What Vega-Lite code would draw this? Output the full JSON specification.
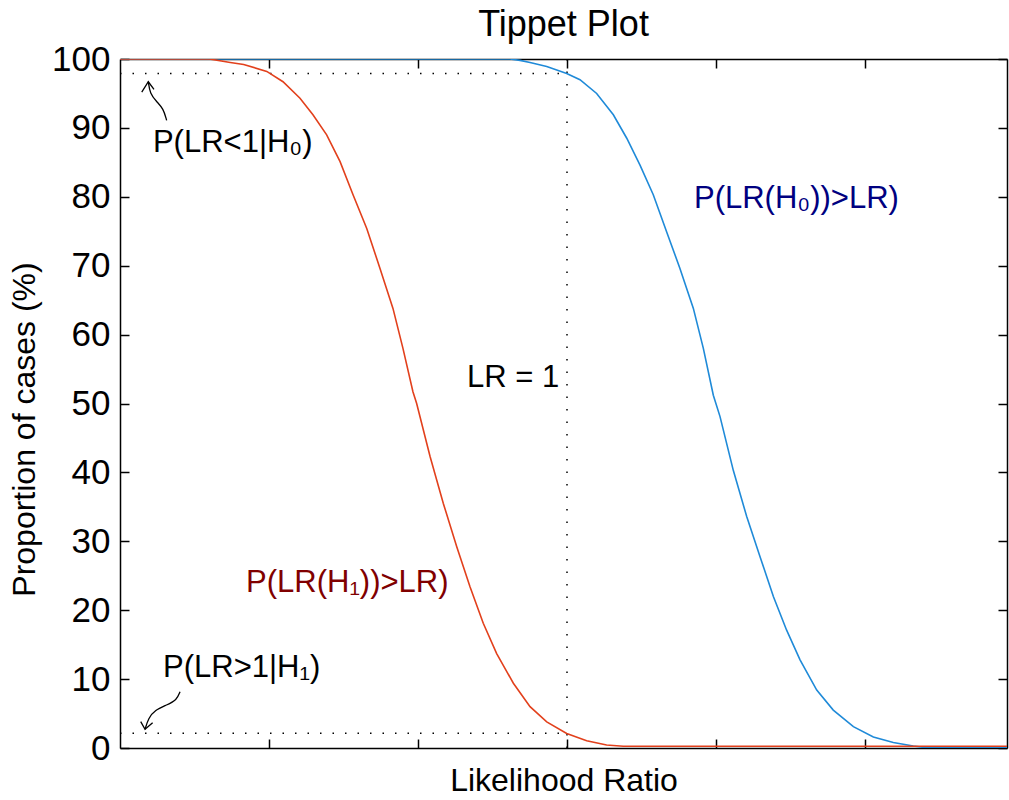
{
  "$schema": "https://vega.github.io/schema/vega-lite/v6.json",
  "width": 887,
  "height": 689,
  "autosize": "none",
  "padding": {"left": 120, "top": 59, "right": 2, "bottom": 52},
  "background": "white",
  "title": {"text": "Tippet Plot", "fontSize": 36, "fontWeight": "normal", "font": "Liberation Sans", "color": "black", "offset": -2},
  "config": {
    "view": {"stroke": null},
    "font": "Liberation Sans",
    "axis": {
      "grid": false,
      "domainColor": "black",
      "domainWidth": 1.5,
      "tickColor": "black",
      "tickWidth": 1.5,
      "tickSize": -9,
      "labelFont": "Liberation Sans",
      "labelFontSize": 35,
      "labelColor": "black",
      "titleFont": "Liberation Sans",
      "titleFontSize": 32,
      "titleFontWeight": "normal",
      "titleColor": "black"
    }
  },
  "datasets": {
    "curves": [
      {"series": "H0", "x": -3, "p": 100}, {"series": "H0", "x": -0.383, "p": 100}, {"series": "H0", "x": -0.315, "p": 99.8},
      {"series": "H0", "x": -0.248, "p": 99.5}, {"series": "H0", "x": -0.136, "p": 98.9}, {"series": "H0", "x": -0.002, "p": 97.9},
      {"series": "H0", "x": 0.087, "p": 97.0}, {"series": "H0", "x": 0.199, "p": 95.0}, {"series": "H0", "x": 0.311, "p": 91.9},
      {"series": "H0", "x": 0.401, "p": 88.5}, {"series": "H0", "x": 0.49, "p": 84.6}, {"series": "H0", "x": 0.579, "p": 80.3},
      {"series": "H0", "x": 0.669, "p": 74.9}, {"series": "H0", "x": 0.758, "p": 69.6}, {"series": "H0", "x": 0.848, "p": 63.8},
      {"series": "H0", "x": 0.915, "p": 58.0}, {"series": "H0", "x": 0.982, "p": 51.2}, {"series": "H0", "x": 1.027, "p": 48.1},
      {"series": "H0", "x": 1.116, "p": 40.3}, {"series": "H0", "x": 1.206, "p": 33.6}, {"series": "H0", "x": 1.295, "p": 27.8},
      {"series": "H0", "x": 1.385, "p": 22.0}, {"series": "H0", "x": 1.474, "p": 17.1}, {"series": "H0", "x": 1.564, "p": 12.8},
      {"series": "H0", "x": 1.676, "p": 8.4}, {"series": "H0", "x": 1.787, "p": 5.5}, {"series": "H0", "x": 1.922, "p": 3.1},
      {"series": "H0", "x": 2.056, "p": 1.6}, {"series": "H0", "x": 2.19, "p": 0.8}, {"series": "H0", "x": 2.324, "p": 0.3},
      {"series": "H0", "x": 2.389, "p": 0.1}, {"series": "H0", "x": 2.953, "p": 0.1},
      {"series": "H1", "x": -3, "p": 100}, {"series": "H1", "x": -2.4, "p": 100}, {"series": "H1", "x": -2.26, "p": 99.5},
      {"series": "H1", "x": -2.17, "p": 99.2}, {"series": "H1", "x": -2.015, "p": 98.2}, {"series": "H1", "x": -1.906, "p": 96.7},
      {"series": "H1", "x": -1.792, "p": 94.3}, {"series": "H1", "x": -1.705, "p": 91.9}, {"series": "H1", "x": -1.613, "p": 89.0},
      {"series": "H1", "x": -1.523, "p": 85.1}, {"series": "H1", "x": -1.436, "p": 80.3}, {"series": "H1", "x": -1.344, "p": 75.4},
      {"series": "H1", "x": -1.255, "p": 69.6}, {"series": "H1", "x": -1.168, "p": 63.8}, {"series": "H1", "x": -1.101, "p": 58.0},
      {"series": "H1", "x": -1.034, "p": 51.7}, {"series": "H1", "x": -1.009, "p": 50.0}, {"series": "H1", "x": -0.919, "p": 42.3},
      {"series": "H1", "x": -0.83, "p": 35.5}, {"series": "H1", "x": -0.74, "p": 29.2}, {"series": "H1", "x": -0.651, "p": 23.4},
      {"series": "H1", "x": -0.562, "p": 18.1}, {"series": "H1", "x": -0.472, "p": 13.7}, {"series": "H1", "x": -0.36, "p": 9.4},
      {"series": "H1", "x": -0.248, "p": 6.0}, {"series": "H1", "x": -0.136, "p": 3.8}, {"series": "H1", "x": -0.002, "p": 2.1},
      {"series": "H1", "x": 0.132, "p": 1.06}, {"series": "H1", "x": 0.266, "p": 0.44}, {"series": "H1", "x": 0.378, "p": 0.25},
      {"series": "H1", "x": 2.953, "p": 0.25}
    ],
    "refs": [
      {"x": -3, "x2": 0, "y": 97.9, "y2": 97.9},
      {"x": -3, "x2": 0, "y": 2.13, "y2": 2.13},
      {"x": 0, "x2": 0, "y": 0, "y2": 100}
    ],
    "labels": [
      {"label": "P(LR<1|H₀)", "x": -2.779, "y": 87.8, "kind": "note"},
      {"label": "P(LR>1|H₁)", "x": -2.711, "y": 11.6, "kind": "note"},
      {"label": "LR = 1", "x": -0.671, "y": 53.7, "kind": "note"},
      {"label": "P(LR(H₁))>LR)", "x": -2.154, "y": 23.9, "kind": "H1"},
      {"label": "P(LR(H₀))>LR)", "x": 0.852, "y": 79.7, "kind": "H0"}
    ],
    "stems": [
      {"arrow": "up", "i": 0, "x": -2.687, "y": 91.1},
      {"arrow": "up", "i": 1, "x": -2.709, "y": 92.8},
      {"arrow": "up", "i": 2, "x": -2.754, "y": 93.8},
      {"arrow": "up", "i": 3, "x": -2.799, "y": 95.0},
      {"arrow": "up", "i": 4, "x": -2.81, "y": 96.7},
      {"arrow": "down", "i": 0, "x": -2.597, "y": 8.17},
      {"arrow": "down", "i": 1, "x": -2.619, "y": 6.97},
      {"arrow": "down", "i": 2, "x": -2.686, "y": 6.24},
      {"arrow": "down", "i": 3, "x": -2.765, "y": 5.52},
      {"arrow": "down", "i": 4, "x": -2.81, "y": 4.31},
      {"arrow": "down", "i": 5, "x": -2.832, "y": 2.71}
    ],
    "heads": [
      {"arrow": "up", "i": 0, "x": -2.854, "y": 95.2},
      {"arrow": "up", "i": 1, "x": -2.81, "y": 96.7},
      {"arrow": "up", "i": 2, "x": -2.772, "y": 95.6},
      {"arrow": "down", "i": 0, "x": -2.861, "y": 3.82},
      {"arrow": "down", "i": 1, "x": -2.832, "y": 2.71},
      {"arrow": "down", "i": 2, "x": -2.781, "y": 3.67}
    ]
  },
  "resolve": {"axis": {"x": "independent", "y": "independent"}},
  "layer": [
    {
      "data": {"name": "refs"},
      "mark": {"type": "rule", "color": "black", "strokeWidth": 1.5, "strokeDash": [1.5, 11]},
      "encoding": {
        "x": {"field": "x", "type": "quantitative", "scale": {"domain": [-3, 2.953], "nice": false, "zero": false}, "axis": null},
        "x2": {"field": "x2"},
        "y": {"field": "y", "type": "quantitative", "scale": {"domain": [0, 100], "nice": false}, "axis": null},
        "y2": {"field": "y2"}
      }
    },
    {
      "data": {"name": "curves"},
      "transform": [{"filter": "datum.series === 'H0'"}],
      "mark": {"type": "line", "color": "#1f8ad8", "strokeWidth": 1.6, "clip": true},
      "encoding": {
        "x": {"field": "x", "type": "quantitative", "axis": {"orient": "bottom", "labels": false, "values": [-2, -1, 0, 1, 2], "title": "Likelihood Ratio", "titlePadding": 17}},
        "y": {"field": "p", "type": "quantitative", "axis": {"orient": "left", "values": [0, 10, 20, 30, 40, 50, 60, 70, 80, 90, 100], "title": "Proportion of cases (%)", "labelPadding": 19, "titlePadding": 10, "titleY": 370}}
      }
    },
    {
      "data": {"name": "curves"},
      "transform": [{"filter": "datum.series === 'H1'"}],
      "mark": {"type": "line", "color": "#e2401c", "strokeWidth": 1.6, "clip": true},
      "encoding": {
        "x": {"field": "x", "type": "quantitative", "axis": {"orient": "top", "labels": false, "values": [-2, -1, 0, 1, 2], "title": null}},
        "y": {"field": "p", "type": "quantitative", "axis": {"orient": "right", "labels": false, "values": [0, 10, 20, 30, 40, 50, 60, 70, 80, 90, 100], "title": null}}
      }
    },
    {
      "data": {"name": "stems"},
      "mark": {"type": "line", "color": "black", "strokeWidth": 1.3, "interpolate": "basis"},
      "encoding": {
        "x": {"field": "x", "type": "quantitative", "axis": null},
        "y": {"field": "y", "type": "quantitative", "axis": null},
        "detail": {"field": "arrow"},
        "order": {"field": "i"}
      }
    },
    {
      "data": {"name": "heads"},
      "mark": {"type": "line", "color": "black", "strokeWidth": 1.3},
      "encoding": {
        "x": {"field": "x", "type": "quantitative", "axis": null},
        "y": {"field": "y", "type": "quantitative", "axis": null},
        "detail": {"field": "arrow"},
        "order": {"field": "i"}
      }
    },
    {
      "data": {"name": "labels"},
      "mark": {"type": "text", "align": "left", "baseline": "middle", "font": "Liberation Sans", "fontSize": 31},
      "encoding": {
        "x": {"field": "x", "type": "quantitative", "axis": null},
        "y": {"field": "y", "type": "quantitative", "axis": null},
        "text": {"field": "label"},
        "color": {"field": "kind", "type": "nominal", "scale": {"domain": ["note", "H0", "H1"], "range": ["#000000", "#000080", "#800000"]}, "legend": null}
      }
    }
  ]
}
